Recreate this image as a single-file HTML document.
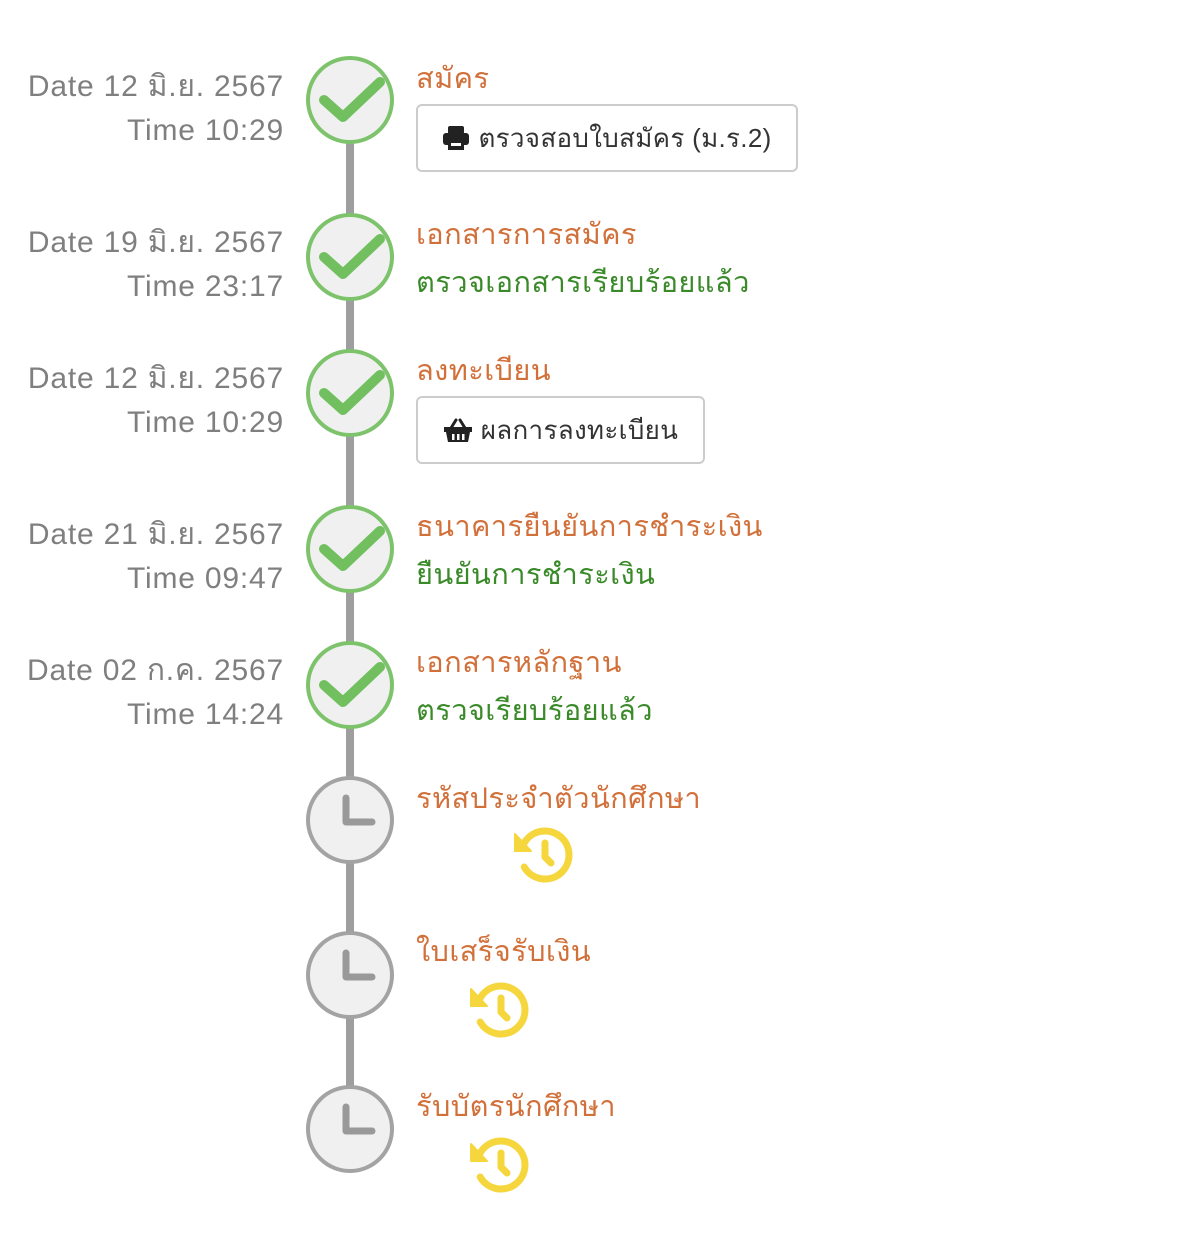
<!DOCTYPE html>
<html><head><meta charset="utf-8"><style>
body{margin:0;width:1195px;height:1239px;background:#fff;position:relative;overflow:hidden;font-family:"Liberation Sans","Noto Sans CJK SC",sans-serif}
.d{position:absolute;right:911px;text-align:right;color:#7f7f7f;font-size:30px;line-height:44px;white-space:nowrap;letter-spacing:0.8px}
.t{position:absolute;left:416px;font-size:29px;color:#d2703a;white-space:nowrap;line-height:34px;letter-spacing:0.4px}
.g{color:#3a8a2a}
.btn{position:absolute;left:416px;border:2px solid #ccc;border-radius:6px;background:#fff;color:#333;font-size:26px;display:flex;align-items:center;justify-content:center;box-sizing:border-box;letter-spacing:0.3px}
.btn svg{position:static;margin-right:8px}
svg{position:absolute;left:0;top:0}
</style></head><body>
<svg width="1195" height="1239">
<rect x="346" y="100" width="8" height="1030" fill="#9e9e9e"/>
<g fill="#f0f0f0" stroke="#7dc36b" stroke-width="4">
<circle cx="350" cy="100" r="42"/><circle cx="350" cy="257" r="42"/><circle cx="350" cy="393" r="42"/><circle cx="350" cy="549" r="42"/><circle cx="350" cy="685" r="42"/>
</g>
<g fill="none" stroke="#72bf60" stroke-width="10" stroke-linecap="round" stroke-linejoin="round">
<polyline points="324,100 343,117 380,82"/>
<polyline points="324,257 343,274 380,239"/>
<polyline points="324,393 343,410 380,375"/>
<polyline points="324,549 343,566 380,531"/>
<polyline points="324,685 343,702 380,667"/>
</g>
<g fill="#f0f0f0" stroke="#a3a3a3" stroke-width="4">
<circle cx="350" cy="820" r="42"/><circle cx="350" cy="975" r="42"/><circle cx="350" cy="1129" r="42"/>
</g>
<g fill="none" stroke="#999" stroke-width="7" stroke-linecap="round" stroke-linejoin="round">
<polyline points="346,798 346,822 372,822"/>
<polyline points="346,953 346,977 372,977"/>
<polyline points="346,1107 346,1131 372,1131"/>
</g>
<g fill="none" stroke="#f5d63d" stroke-width="7" stroke-linecap="round" stroke-linejoin="round">
<g transform="translate(510,823)"><path d="M14.2,20 A24,24 0 1 1 14.2,44"/><polyline points="35,20 35,34 41,40"/><polygon points="5,11 5,28 21,28" fill="#f5d63d" stroke-width="2"/></g>
<g transform="translate(466,978)"><path d="M14.2,20 A24,24 0 1 1 14.2,44"/><polyline points="35,20 35,34 41,40"/><polygon points="5,11 5,28 21,28" fill="#f5d63d" stroke-width="2"/></g>
<g transform="translate(466,1133)"><path d="M14.2,20 A24,24 0 1 1 14.2,44"/><polyline points="35,20 35,34 41,40"/><polygon points="5,11 5,28 21,28" fill="#f5d63d" stroke-width="2"/></g>
</g>
</svg>

<div class="d" style="top:65px">Date 12 มิ.ย. 2567<br>Time 10:29</div>
<div class="d" style="top:221px">Date 19 มิ.ย. 2567<br>Time 23:17</div>
<div class="d" style="top:357px">Date 12 มิ.ย. 2567<br>Time 10:29</div>
<div class="d" style="top:513px">Date 21 มิ.ย. 2567<br>Time 09:47</div>
<div class="d" style="top:649px">Date 02 ก.ค. 2567<br>Time 14:24</div>

<div class="t" style="top:62px">สมัคร</div>
<div class="btn" style="top:104px;width:382px;height:68px"><svg width="28" height="28" viewBox="0 0 28 28"><rect x="6" y="2" width="16" height="8" rx="2" fill="#222"/><rect x="1" y="9" width="26" height="12" rx="3" fill="#222"/><rect x="6" y="17" width="16" height="9" fill="#222"/><rect x="9" y="19" width="10" height="3" fill="#fff"/></svg>ตรวจสอบใบสมัคร (ม.ร.2)</div>
<div class="t" style="top:218px">เอกสารการสมัคร</div>
<div class="t g" style="top:266px">ตรวจเอกสารเรียบร้อยแล้ว</div>
<div class="t" style="top:354px">ลงทะเบียน</div>
<div class="btn" style="top:396px;width:289px;height:68px"><svg width="30" height="26" viewBox="0 0 30 26"><path d="M8,11 L13,3 M22,11 L17,3" stroke="#222" stroke-width="3" stroke-linecap="round"/><rect x="1" y="10" width="28" height="5" fill="#222"/><path d="M3,15 L27,15 L25,25 L5,25 Z" fill="#222"/><rect x="9" y="17" width="2.5" height="6" fill="#fff"/><rect x="14" y="17" width="2.5" height="6" fill="#fff"/><rect x="19" y="17" width="2.5" height="6" fill="#fff"/></svg>ผลการลงทะเบียน</div>
<div class="t" style="top:510px">ธนาคารยืนยันการชำระเงิน</div>
<div class="t g" style="top:558px">ยืนยันการชำระเงิน</div>
<div class="t" style="top:646px">เอกสารหลักฐาน</div>
<div class="t g" style="top:694px">ตรวจเรียบร้อยแล้ว</div>
<div class="t" style="top:782px">รหัสประจำตัวนักศึกษา</div>
<div class="t" style="top:935px">ใบเสร็จรับเงิน</div>
<div class="t" style="top:1090px">รับบัตรนักศึกษา</div>
</body></html>
